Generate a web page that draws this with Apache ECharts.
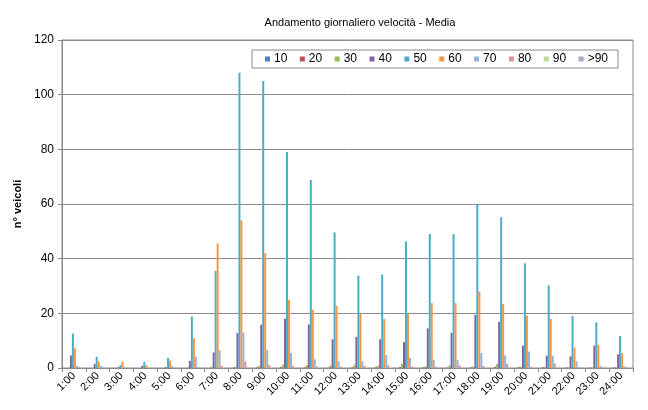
<!DOCTYPE html>
<html>
<head>
<meta charset="utf-8">
<script src="https://cdn.jsdelivr.net/npm/echarts@6/dist/echarts.min.js"></script>
<style>
  html, body { margin: 0; padding: 0; background: #fff; }
  #chart { width: 648px; height: 410px; }
</style>
</head>
<body>
<div id="chart"></div>
<script>
// Hours of the day
const hours = ['1:00','2:00','3:00','4:00','5:00','6:00','7:00','8:00','9:00','10:00','11:00','12:00',
               '13:00','14:00','15:00','16:00','17:00','18:00','19:00','20:00','21:00','22:00','23:00','24:00'];

// Speed classes (km/h)
const speedClasses = ['10','20','30','40','50','60','70','80','90','>90'];

// Average vehicle counts per hour for each speed class
const v10  = [0,0,0,0,0,0,0,0,0,0,0,0,0,0,0,0,0,0,0,0,0,0,0,0];
const v20  = [0,0,0,0,0,0,0,0.2,0.3,0.3,0.2,0.2,0.3,0.4,0.3,0.3,0.2,0.3,0.4,0.3,0.3,0.2,0.2,0.2];
const v30  = [0.2,0,0,0,0,0.2,0.5,0.5,0.8,1.2,1.1,1.0,1.2,0.9,1.5,0.6,1.0,0.6,1.5,0.5,0.3,0.2,0.2,0.2];
const v40  = [4.6,1.5,0.3,0.8,0.3,2.6,5.7,12.8,15.8,18,15.9,10.5,11.4,10.5,9.5,14.5,12.9,19.4,16.9,8.2,4.5,4.3,8.2,5];
const v50  = [12.6,4.1,1.1,2.3,3.7,18.8,35.5,108,105,79,68.8,49.6,33.8,34.2,46.3,49,49,60,55.1,38.3,30.2,19,16.7,11.7];
const v60  = [7.2,2.4,2.3,1.1,2.6,10.9,45.6,54,42,24.9,21.3,22.8,20,17.9,20,23.7,23.7,28,23.4,19.1,17.9,7.5,8.5,5.4];
const v70  = [0.8,0.9,0.3,0.2,0.7,4.1,6.5,12.9,6.5,5.5,3.2,2.5,2.5,4.8,3.7,3,3,5.5,4.6,6,4.5,2.4,0.8,0.7];
const v80  = [0.3,0.2,0,0,0,0.3,0.8,2.4,1.1,0.8,0.5,0.6,0.8,1,0.5,0.5,1,0.8,1.5,0.5,1.7,0.3,0.3,0.2];
const v90  = [0,0,0,0,0,0,0,0,0.1,0.1,0,0,0,0,0,0,0,0,0,0,0,0,0,0];
const vOver90 = [0,0,0,0,0,0,0,0,0,0,0,0,0,0,0,0,0,0,0,0,0,0,0,0];

const yTicks = { min: 0, max: 120, step: 20 };

const values = [v10, v20, v30, v40, v50, v60, v70, v80, v90, vOver90];
const colors = ['#4F81BD','#C0504D','#9BBB59','#8064A2','#4BACC6','#F79646','#95B3D7','#D99694','#C3D69B','#B3A2C7'];

const font = "'Liberation Sans', Arial, sans-serif";
const gridGray = '#8a8a8a';

const chart = echarts.init(document.getElementById('chart'), null, { renderer: 'canvas' });

chart.setOption({
  animation: false,
  backgroundColor: '#fff',
  color: colors,
  textStyle: { fontFamily: font },
  title: {
    text: 'Andamento giornaliero velocità - Media',
    left: 355,
    textAlign: 'center',
    top: 12,
    textStyle: { fontFamily: font, fontSize: 11, fontWeight: 'normal', color: '#000' }
  },
  legend: {
    data: speedClasses,
    left: 252,
    top: 50,
    orient: 'horizontal',
    icon: 'rect',
    itemWidth: 5,
    itemHeight: 5,
    itemGap: 12.5,
    padding: [3, 10, 3, 13],
    borderColor: '#8a8a8a',
    borderWidth: 1,
    backgroundColor: '#fff',
    textStyle: { fontFamily: font, fontSize: 12, color: '#000', padding: [0, 0, 0, -1] }
  },
  grid: {
    left: 62,
    right: 15,
    top: 40,
    bottom: 42,
    show: true,
    borderColor: gridGray,
    borderWidth: 1
  },
  xAxis: {
    type: 'category',
    data: hours,
    boundaryGap: true,
    axisLine: { lineStyle: { color: gridGray, width: 1 } },
    axisTick: { show: true, length: 4, lineStyle: { color: gridGray } },
    axisLabel: {
      rotate: 45,
      interval: 0,
      fontFamily: font,
      fontSize: 11,
      color: '#000',
      margin: 6
    }
  },
  yAxis: {
    type: 'value',
    min: yTicks.min,
    max: yTicks.max,
    interval: yTicks.step,
    name: 'n° veicoli',
    nameLocation: 'middle',
    nameGap: 32,
    nameRotate: 90,
    nameTextStyle: { fontFamily: font, fontSize: 11, fontWeight: 'bold', color: '#000' },
    axisLine: { show: true, lineStyle: { color: gridGray, width: 1 } },
    axisTick: { show: true, length: 4, inside: false, lineStyle: { color: gridGray } },
    axisLabel: { fontFamily: font, fontSize: 12, color: '#000', margin: 8 },
    splitLine: { show: true, lineStyle: { color: gridGray, width: 1 } }
  },
  series: speedClasses.map((name, i) => ({
    name: name,
    type: 'bar',
    data: values[i],
    barGap: '0%',
    barCategoryGap: '16%',
    itemStyle: { color: colors[i] }
  }))
});
</script>
</body>
</html>
